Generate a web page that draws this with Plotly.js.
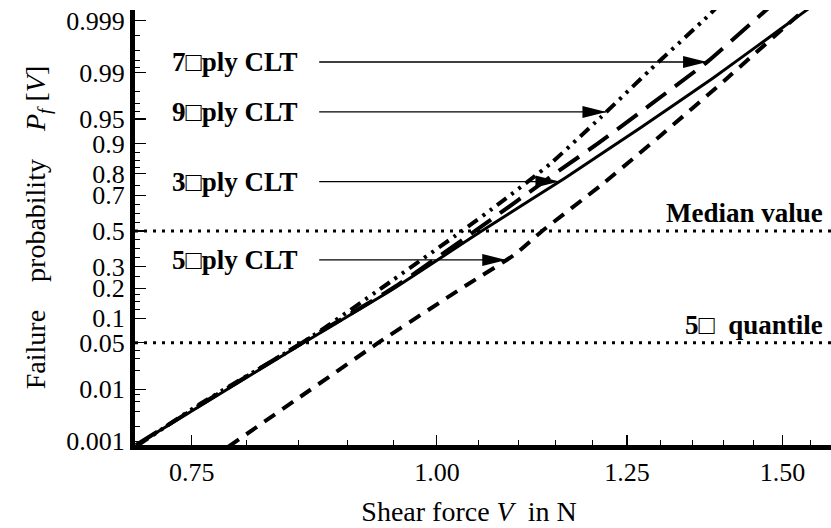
<!DOCTYPE html>
<html><head><meta charset="utf-8">
<script src="https://cdn.plot.ly/plotly-3.0.1.min.js"></script>
<style>html,body{margin:0;padding:0;background:#fff;overflow:hidden}</style>
</head><body><div id="chart" style="width:831px;height:528px"></div>
<script>
// ---------- data ----------
const ply3V = [0.7025, 0.7573, 0.8516, 0.9499, 1.0520, 1.1624, 1.2694, 1.3829, 1.4613, 1.5388, 1.5884];
const ply3P = [0.00082, 0.00503, 0.0469, 0.1968, 0.4941, 0.782, 0.9351, 0.98778, 0.99702, 0.99936, 0.99978];

const ply5V = [0.7827, 0.8516, 0.9333, 1.0337, 1.0948, 1.1315, 1.2111, 1.2995, 1.4025, 1.5083, 1.5497];
const ply5P = [0.00075, 0.00732, 0.0498, 0.2093, 0.362, 0.50, 0.746, 0.9188, 0.98682, 0.99877, 0.99956];

const ply7V = [0.7025, 0.7573, 0.8516, 0.9499, 1.0459, 1.1556, 1.2111, 1.2843, 1.3733, 1.4275, 1.4821];
const ply7P = [0.00082, 0.00525, 0.0483, 0.201, 0.50, 0.815, 0.9047, 0.9681, 0.99353, 0.99820, 0.99956];

const ply9V = [0.7042, 0.7573, 0.8567, 0.9388, 1.0300, 1.0770, 1.1421, 1.2111, 1.2843, 1.3733, 1.3878];
const ply9P = [0.00082, 0.00548, 0.0528, 0.205, 0.50, 0.660, 0.8377, 0.9517, 0.99105, 0.99918, 0.99948];

const seriesLabels = ['3\u25A1ply CLT', '5\u25A1ply CLT', '7\u25A1ply CLT', '9\u25A1ply CLT'];
const labelLevels = [0.766, 0.335, 0.9935, 0.96];   // probability level where each arrow meets its curve

const yTickValues = [0.001, 0.01, 0.05, 0.1, 0.2, 0.3, 0.5, 0.7, 0.8, 0.9, 0.95, 0.99, 0.999];
const yTickLabels = ['0.001', '0.01', '0.05', '0.1', '0.2', '0.3', '0.5', '0.7', '0.8', '0.9', '0.95', '0.99', '0.999'];
const yMinorValues = [0.002, 0.004, 0.006, 0.008, 0.02, 0.03, 0.04, 0.125, 0.15, 0.175, 0.25, 0.35, 0.4, 0.45,
                      0.55, 0.6, 0.65, 0.75, 0.825, 0.85, 0.875, 0.96, 0.97, 0.98, 0.992, 0.994, 0.996, 0.998];
const xTickValues = [0.75, 1.00, 1.25, 1.50];
const xTickLabels = ['0.75', '1.00', '1.25', '1.50'];
const xMinorValues = [0.8, 0.85, 0.9, 0.95, 1.05, 1.1, 1.15, 1.2, 1.3, 1.35, 1.4, 1.45, 1.55];

const refLevels = [0.5, 0.05];
const refLabels = ['Median value', '5\u25A1  quantile'];

// ---------- helpers ----------
function probit(p) {
  const a = [-3.969683028665376e+01, 2.209460984245205e+02, -2.759285104469687e+02, 1.383577518672690e+02, -3.066479806614716e+01, 2.506628277459239e+00];
  const b = [-5.447609879822406e+01, 1.615858368580409e+02, -1.556989798598866e+02, 6.680131188771972e+01, -1.328068155288572e+01];
  const c = [-7.784894002430293e-03, -3.223964580411365e-01, -2.400758277161838e+00, -2.549732539343734e+00, 4.374664141464968e+00, 2.938163982698783e+00];
  const d = [7.784695709041462e-03, 3.224671290700398e-01, 2.445134137142996e+00, 3.754408661907416e+00];
  const pl = 0.02425, ph = 1 - pl;
  let q, r;
  if (p < pl) { q = Math.sqrt(-2 * Math.log(p)); return (((((c[0]*q+c[1])*q+c[2])*q+c[3])*q+c[4])*q+c[5]) / ((((d[0]*q+d[1])*q+d[2])*q+d[3])*q+1); }
  if (p <= ph) { q = p - 0.5; r = q*q; return (((((a[0]*r+a[1])*r+a[2])*r+a[3])*r+a[4])*r+a[5])*q / (((((b[0]*r+b[1])*r+b[2])*r+b[3])*r+b[4])*r+1); }
  q = Math.sqrt(-2 * Math.log(1 - p)); return -(((((c[0]*q+c[1])*q+c[2])*q+c[3])*q+c[4])*q+c[5]) / ((((d[0]*q+d[1])*q+d[2])*q+d[3])*q+1);
}
function vAtLevel(V, P, level) {
  const z = probit(level);
  for (let i = 0; i < V.length - 1; i++) {
    const z0 = probit(P[i]), z1 = probit(P[i+1]);
    if ((z - z0) * (z - z1) <= 0) {
      const t = (z - z0) / (z1 - z0);
      return Math.exp(Math.log(V[i]) + t * (Math.log(V[i+1]) - Math.log(V[i])));
    }
  }
  return V[V.length - 1];
}

const FONT = 'Liberation Serif, Times New Roman, serif';
const series = [
  {V: ply3V, P: ply3P, dash: 'solid', width: 3},
  {V: ply5V, P: ply5P, dash: '13px,9px', width: 4},
  {V: ply7V, P: ply7P, dash: '25px,11px', width: 4},
  {V: ply9V, P: ply9P, dash: '12px,6px,3px,6px,3px,6px', width: 4}
];
const traces = series.map((s, i) => ({
  type: 'scatter', mode: 'lines', name: seriesLabels[i],
  x: s.V, y: s.P.map(probit),
  line: {color: '#000', width: s.width, dash: s.dash, shape: 'spline', smoothing: 0.5},
  hoverinfo: 'skip', showlegend: false
}));

const labelV = 0.731, tailV = 0.871;
const shapes = [], annotations = [];
refLevels.forEach((p, i) => {
  shapes.push({type: 'line', xref: 'paper', yref: 'y', x0: 0, x1: 1, y0: probit(p), y1: probit(p),
    line: {color: '#000', width: 3, dash: '3px,6px'}});
  annotations.push({xref: 'paper', yref: 'y', x: 0.992, y: probit(p), xanchor: 'right', yanchor: 'middle', yshift: 18,
    text: '<b>' + refLabels[i] + '</b>', showarrow: false, font: {family: FONT, size: 27, color: '#000'}});
});
series.forEach((s, i) => {
  const z = probit(labelLevels[i]);
  const tip = vAtLevel(s.V, s.P, labelLevels[i]);
  shapes.push({type: 'line', xref: 'x', yref: 'y', x0: tailV, x1: tip, y0: z, y1: z, line: {color: '#000', width: 1.3}});
  shapes.push({type: 'path', xref: 'x', yref: 'y', xsizemode: 'pixel', ysizemode: 'pixel', xanchor: tip, yanchor: z,
    path: 'M0,0 L-24,-6 L-24,6 Z', fillcolor: '#000', line: {width: 0}});
  annotations.push({xref: 'x', yref: 'y', x: Math.log10(labelV), y: z, xanchor: 'left', yanchor: 'middle',
    text: '<b>' + seriesLabels[i] + '</b>', showarrow: false, font: {family: FONT, size: 27, color: '#000'}});
});

const layout = {
  width: 831, height: 528,
  margin: {l: 135, r: 0, t: 10, b: 83},
  paper_bgcolor: '#fff', plot_bgcolor: '#fff',
  font: {family: FONT, color: '#000', size: 26},
  xaxis: {
    type: 'log', range: [Math.log10(0.7017), Math.log10(1.588)],
    tickmode: 'array', tickvals: xTickValues, ticktext: xTickLabels,
    ticks: 'inside', ticklen: 10, tickwidth: 1.2, tickcolor: '#000',
    showline: true, linewidth: 5, linecolor: '#000', showgrid: false, zeroline: false,
    tickfont: {family: FONT, size: 26, color: '#000'},
    minor: {tickmode: 'array', tickvals: xMinorValues, ticks: 'inside', ticklen: 5, tickwidth: 1, tickcolor: '#000', showgrid: false},
    title: {text: 'Shear force <i>V</i>  in N&nbsp;&nbsp;&nbsp;&nbsp;', font: {family: FONT, size: 28, color: '#000'}, standoff: 17}
  },
  yaxis: {
    range: [probit(0.000825), probit(0.99942)],
    tickmode: 'array', tickvals: yTickValues.map(probit), ticktext: yTickLabels,
    ticks: 'inside', ticklen: 11, tickwidth: 1.2, tickcolor: '#000',
    showline: true, linewidth: 5, linecolor: '#000', showgrid: false, zeroline: false,
    tickfont: {family: FONT, size: 26, color: '#000'},
    minor: {tickmode: 'array', tickvals: yMinorValues.map(probit), ticks: 'inside', ticklen: 5, tickwidth: 1, tickcolor: '#000', showgrid: false},
    title: {text: 'Failure    probability    <i>P<sub>f</sub></i> [<i>V</i>]', font: {family: FONT, size: 28, color: '#000'}, standoff: 14}
  },
  shapes: shapes, annotations: annotations, showlegend: false
};
Plotly.newPlot('chart', traces, layout, {staticPlot: true, displayModeBar: false});
</script></body></html>
